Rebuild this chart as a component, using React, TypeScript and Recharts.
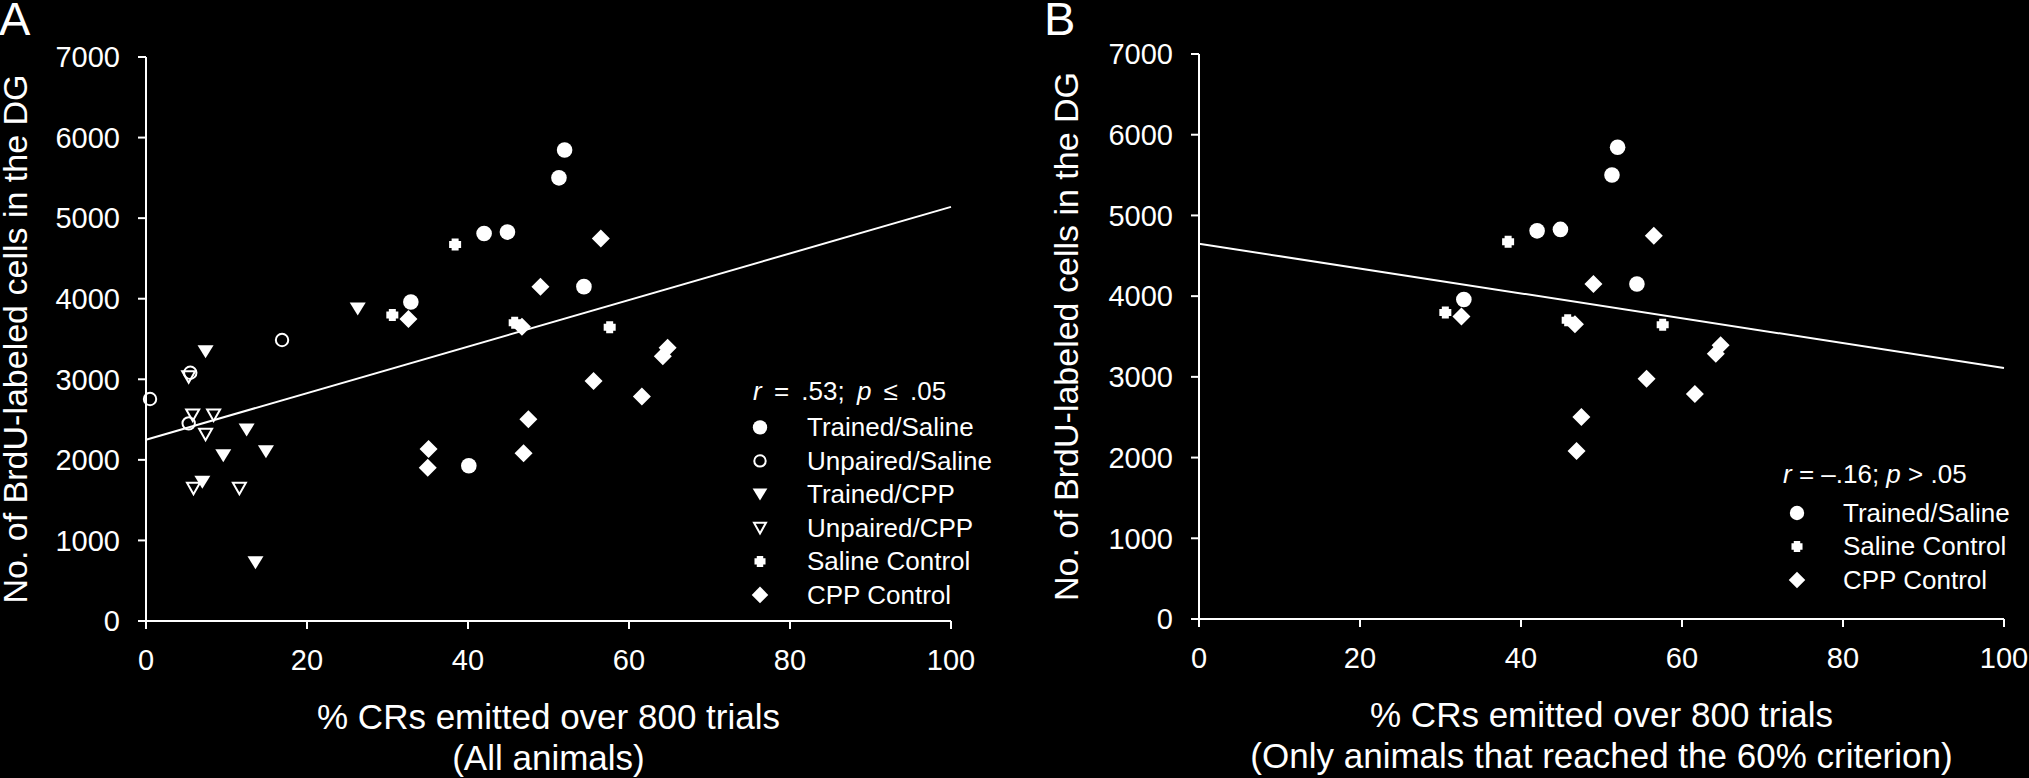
import React from 'react';
import { ScatterChart, Scatter, XAxis, YAxis, ReferenceLine, Label } from 'recharts';

const FONT = '"Liberation Sans", Arial, Helvetica, sans-serif';
const WHITE = '#ffffff';
const BLACK = '#000000';

// ---------- axis ticks ----------
const xTicks = [0, 20, 40, 60, 80, 100];
const yTicks = [0, 1000, 2000, 3000, 4000, 5000, 6000, 7000];

// ---------- titles ----------
const xTitleLine1 = '% CRs emitted over 800 trials';
const xTitleLine2A = '(All animals)';
const xTitleLine2B = '(Only animals that reached the 60% criterion)';
const yTitle = 'No. of BrdU-labeled cells in the DG';

// ---------- Panel A data ----------
const trainedSalineA = [
  { x: 52.0, y: 5845 }, { x: 51.3, y: 5500 }, { x: 42.0, y: 4809 }, { x: 44.9, y: 4827 },
  { x: 32.9, y: 3959 }, { x: 54.4, y: 4150 }, { x: 40.1, y: 1927 },
];
const unpairedSalineA = [
  { x: 16.9, y: 3488 }, { x: 0.5, y: 2755 }, { x: 5.5, y: 3081 }, { x: 5.3, y: 2453 },
];
const trainedCppA = [
  { x: 26.3, y: 3872 }, { x: 7.4, y: 3342 }, { x: 12.5, y: 2370 }, { x: 9.6, y: 2051 },
  { x: 14.9, y: 2101 }, { x: 7.0, y: 1721 }, { x: 13.6, y: 722 },
];
const unpairedCppA = [
  { x: 5.3, y: 3032 }, { x: 5.8, y: 2556 }, { x: 8.4, y: 2556 }, { x: 7.4, y: 2317 },
  { x: 5.9, y: 1647 }, { x: 11.6, y: 1647 },
];
const salineControlA = [
  { x: 38.4, y: 4674 }, { x: 30.6, y: 3797 }, { x: 45.8, y: 3702 }, { x: 57.6, y: 3645 },
];
const cppControlA = [
  { x: 56.5, y: 4747 }, { x: 49.0, y: 4150 }, { x: 32.6, y: 3748 }, { x: 46.7, y: 3652 },
  { x: 64.8, y: 3392 }, { x: 64.2, y: 3286 }, { x: 55.6, y: 2978 }, { x: 61.6, y: 2787 },
  { x: 47.5, y: 2503 }, { x: 35.1, y: 2135 }, { x: 35.0, y: 1903 }, { x: 46.9, y: 2081 },
];
const fitA = [{ x: 0, y: 2250 }, { x: 100, y: 5140 }];
const statA = { r: '.53', p: '\u2264 .05' };
const legendA = ['Trained/Saline', 'Unpaired/Saline', 'Trained/CPP', 'Unpaired/CPP', 'Saline Control', 'CPP Control'];

// ---------- Panel B data ----------
const trainedSalineB = [
  { x: 52.0, y: 5845 }, { x: 51.3, y: 5500 }, { x: 42.0, y: 4809 }, { x: 44.9, y: 4827 },
  { x: 32.9, y: 3959 }, { x: 54.4, y: 4150 },
];
const salineControlB = [
  { x: 38.4, y: 4674 }, { x: 30.6, y: 3797 }, { x: 45.8, y: 3702 }, { x: 57.6, y: 3645 },
];
const cppControlB = [
  { x: 56.5, y: 4747 }, { x: 49.0, y: 4150 }, { x: 32.6, y: 3748 }, { x: 46.7, y: 3652 },
  { x: 64.8, y: 3392 }, { x: 64.2, y: 3286 }, { x: 55.6, y: 2978 }, { x: 61.6, y: 2787 },
  { x: 47.5, y: 2503 }, { x: 46.9, y: 2081 },
];
const fitB = [{ x: 0, y: 4650 }, { x: 100, y: 3110 }];
const statB = { r: '\u2013.16', p: '> .05' };
const legendB = ['Trained/Saline', 'Saline Control', 'CPP Control'];

// ---------- marker shapes ----------
type SP = { cx?: number; cy?: number; s?: number };

const FilledCircle = ({ cx = 0, cy = 0, s = 1 }: SP) => <circle cx={cx} cy={cy} r={7.8 * s} fill={WHITE} />;
const OpenCircle = ({ cx = 0, cy = 0, s = 1 }: SP) => (
  <circle cx={cx} cy={cy} r={6.2 * s} fill="none" stroke={WHITE} strokeWidth={2} />
);
const FilledTri = ({ cx = 0, cy = 0, s = 1 }: SP) => (
  <polygon
    points={`${cx - 8 * s},${cy - 6.5 * s} ${cx + 8 * s},${cy - 6.5 * s} ${cx},${cy + 6.5 * s}`}
    fill={WHITE}
  />
);
const OpenTri = ({ cx = 0, cy = 0, s = 1 }: SP) => (
  <polygon
    points={`${cx - 6.5 * s},${cy - 5.5 * s} ${cx + 6.5 * s},${cy - 5.5 * s} ${cx},${cy + 6 * s}`}
    fill="none"
    stroke={WHITE}
    strokeWidth={2}
    strokeLinejoin="miter"
  />
);
const PlusMark = ({ cx = 0, cy = 0, s = 1 }: SP) => {
  const h = 6 * s;
  const a = 3.5 * s;
  const d = `M${cx - a},${cy - h} H${cx + a} V${cy - a} H${cx + h} V${cy + a} H${cx + a} V${cy + h} H${cx - a} V${cy + a} H${cx - h} V${cy - a} H${cx - a} Z`;
  return <path d={d} fill={WHITE} />;
};
const DiamondMark = ({ cx = 0, cy = 0, s = 1 }: SP) => {
  const h = 9 * s;
  return <polygon points={`${cx},${cy - h} ${cx + h},${cy} ${cx},${cy + h} ${cx - h},${cy}`} fill={WHITE} />;
};

const shapeFor: Record<string, (p: SP) => React.ReactElement> = {
  'Trained/Saline': FilledCircle,
  'Unpaired/Saline': OpenCircle,
  'Trained/CPP': FilledTri,
  'Unpaired/CPP': OpenTri,
  'Saline Control': PlusMark,
  'CPP Control': DiamondMark,
};

type Series = { name: string; data: { x: number; y: number }[] };

const seriesA: Series[] = [
  { name: 'Trained/Saline', data: trainedSalineA },
  { name: 'Unpaired/Saline', data: unpairedSalineA },
  { name: 'Trained/CPP', data: trainedCppA },
  { name: 'Unpaired/CPP', data: unpairedCppA },
  { name: 'Saline Control', data: salineControlA },
  { name: 'CPP Control', data: cppControlA },
];
const seriesB: Series[] = [
  { name: 'Trained/Saline', data: trainedSalineB },
  { name: 'Saline Control', data: salineControlB },
  { name: 'CPP Control', data: cppControlB },
];

type PanelProps = {
  left: number;
  width: number;
  margin: { top: number; right: number; bottom: number; left: number };
  series: Series[];
  fit: { x: number; y: number }[];
  xTitle2: string;
  yTitleOffset: number;
};

const tickStyle = { fill: WHITE, fontSize: 29, fontFamily: FONT };
const lineStyle = { stroke: WHITE, strokeWidth: 2 };

function Panel({ left, width, margin, series, fit, xTitle2, yTitleOffset }: PanelProps) {
  return (
    <div style={{ position: 'absolute', left, top: 0 }}>
      <ScatterChart width={width} height={778} margin={margin}>
        <XAxis
          type="number"
          dataKey="x"
          domain={[0, 100]}
          ticks={xTicks}
          interval={0}
          tick={tickStyle}
          tickLine={lineStyle}
          axisLine={lineStyle}
          tickSize={8}
          tickMargin={20}
          height={60}
        >
          <Label value={xTitleLine1} position="bottom" offset={23} fill={WHITE} fontSize={35} fontFamily={FONT} />
          <Label value={xTitle2} position="bottom" offset={64} fill={WHITE} fontSize={35} fontFamily={FONT} />
        </XAxis>
        <YAxis
          type="number"
          dataKey="y"
          domain={[0, 7000]}
          ticks={yTicks}
          interval={0}
          width={100}
          tick={tickStyle}
          tickLine={lineStyle}
          axisLine={lineStyle}
          tickSize={8}
          tickMargin={18}
        >
          <Label
            value={yTitle}
            angle={-90}
            position="left"
            offset={yTitleOffset}
            fill={WHITE}
            fontSize={34}
            fontFamily={FONT}
            style={{ textAnchor: 'middle' }}
          />
        </YAxis>
        <ReferenceLine segment={fit} stroke={WHITE} strokeWidth={2} ifOverflow="visible" />
        {series.map((s) => {
          const Shape = shapeFor[s.name];
          return (
            <Scatter
              key={s.name}
              name={s.name}
              data={s.data}
              isAnimationActive={false}
              shape={(p: any) => <Shape cx={p.cx} cy={p.cy} />}
            />
          );
        })}
      </ScatterChart>
    </div>
  );
}

type LegendProps = {
  statX: number;
  statBaseline: number;
  statSpacing: number;
  markerX: number;
  textX: number;
  firstBaseline: number;
  step: number;
  items: string[];
  stat: { r: string; p: string };
};

function LegendBlock({ statX, statBaseline, statSpacing, markerX, textX, firstBaseline, step, items, stat }: LegendProps) {
  return (
    <g fontFamily={FONT} fill={WHITE}>
      <text x={statX} y={statBaseline} fontSize={26} fill={WHITE} wordSpacing={statSpacing}>
        <tspan fontStyle="italic">r</tspan>
        {` = ${stat.r}; `}
        <tspan fontStyle="italic">p</tspan>
        {` ${stat.p}`}
      </text>
      {items.map((name, i) => {
        const Shape = shapeFor[name];
        const base = firstBaseline + i * step;
        return (
          <g key={name}>
            <Shape cx={markerX} cy={base - 8.6} s={0.92} />
            <text x={textX} y={base} fontSize={26} fill={WHITE}>
              {name}
            </text>
          </g>
        );
      })}
    </g>
  );
}

export default function App() {
  return (
    <div
      style={{
        position: 'absolute',
        left: 0,
        top: 0,
        width: 2029,
        height: 778,
        background: BLACK,
        overflow: 'hidden',
      }}
    >
      <Panel
        left={0}
        width={1014}
        margin={{ top: 57, right: 63, bottom: 97, left: 46 }}
        series={seriesA}
        fit={fitA}
        xTitle2={xTitleLine2A}
        yTitleOffset={31}
      />
      <Panel
        left={1029}
        width={1000}
        margin={{ top: 54, right: 25, bottom: 99, left: 70 }}
        series={seriesB}
        fit={fitB}
        xTitle2={xTitleLine2B}
        yTitleOffset={33}
      />
      <svg
        width={2029}
        height={778}
        style={{ position: 'absolute', left: 0, top: 0, pointerEvents: 'none' }}
      >
        <text x={-1} y={35} fontSize={47} fontFamily={FONT} fill={WHITE}>A</text>
        <text x={1044} y={35} fontSize={47} fontFamily={FONT} fill={WHITE}>B</text>
        <LegendBlock
          statX={753}
          statBaseline={400}
          statSpacing={5}
          markerX={760}
          textX={807}
          firstBaseline={436}
          step={33.5}
          items={legendA}
          stat={statA}
        />
        <LegendBlock
          statX={1783}
          statBaseline={483}
          statSpacing={0}
          markerX={1797}
          textX={1843}
          firstBaseline={521.6}
          step={33.5}
          items={legendB}
          stat={statB}
        />
      </svg>
    </div>
  );
}
